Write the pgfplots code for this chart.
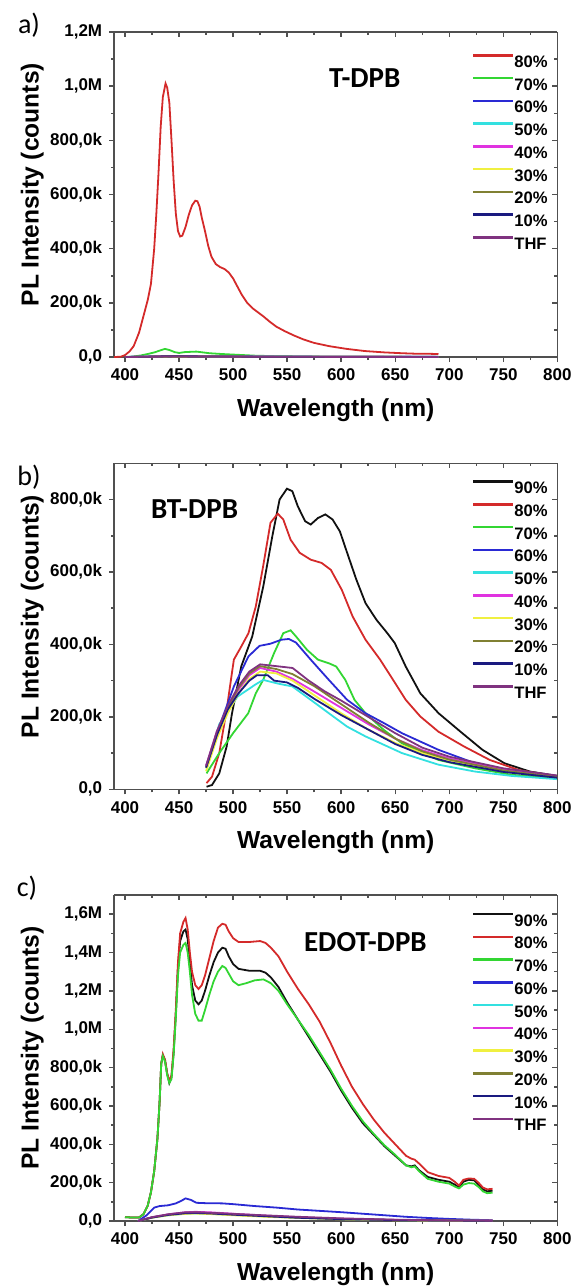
\documentclass[border=0pt]{standalone}
\usepackage{pgfplots}
\pgfplotsset{compat=1.18}
\usepackage{fontspec}
\setmainfont{Liberation Sans}
\newfontfamily\calfont{Carlito}
\definecolor{axgray}{HTML}{505050}
\definecolor{c90}{HTML}{111111}
\definecolor{c80}{HTML}{D42A2A}
\definecolor{c70}{HTML}{33D633}
\definecolor{c60}{HTML}{2A2AD4}
\definecolor{c50}{HTML}{33E0E0}
\definecolor{c40}{HTML}{E033E0}
\definecolor{c30}{HTML}{F0F040}
\definecolor{c20}{HTML}{808033}
\definecolor{c10}{HTML}{1A1A80}
\definecolor{cthf}{HTML}{803380}
\pgfplotsset{
  common/.style={scale only axis, width=221.6pt, xmin=390, xmax=800,
    xtick={400,450,...,800}, minor x tick num=1, minor y tick num=1,
    axis line style={draw=axgray, line width=0.75pt},
    major tick length=2.5pt, minor tick length=1.5pt,
    every tick/.style={draw=axgray, line width=0.75pt},
    tick label style={font=\bfseries\fontsize{8.5}{10}\selectfont},
    /pgf/number format/assume math mode=true,
    scaled y ticks=false},
  mainax/.style={common, axis x line*=bottom, axis y line*=left, tick align=outside,
    xticklabels={400,450,500,550,600,650,700,750,800},
    xlabel={Wavelength (nm)}, ylabel={PL Intensity (counts)},
    label style={font=\bfseries\fontsize{12.3}{14}\selectfont},
    xlabel style={at={(axis description cs:0.5,-0.163)}, anchor=center},
    ylabel style={at={(axis description cs:-0.185,0.53)}, anchor=center, rotate=0},
    legend cell align=left,
    legend style={draw=none, fill=none, inner sep=0pt, outer sep=0pt,
      font=\bfseries\fontsize{8.3}{9}\selectfont, row sep=4.75pt,
      nodes={inner sep=0pt, text height=6pt, text depth=0pt}},
    /tikz/every even column/.append style={column sep=2.5pt},
    legend image code/.code={\draw[##1, line width=1.25pt] (0pt,3pt) -- (20pt,3pt);},
    every axis plot/.append style={line width=0.9pt}},
  topax/.style={common, axis x line*=top, axis y line*=right, tick align=inside,
    xticklabels={}, yticklabels={}}
}
\begin{document}
\begin{tikzpicture}
\useasboundingbox (0,0) rectangle (287pt,-643.5pt);
% ---------------- panel a ----------------
\begin{axis}[mainax, at={(57.1pt,-178.5pt)}, anchor=south west, height=162.5pt,
  ymin=0, ymax=1200000, ytick={0,200000,400000,600000,800000,1000000,1200000},
  yticklabels={0{,}0,200{,}0k,400{,}0k,600{,}0k,800{,}0k,1{,}0M,1{,}2M},
  legend style={at={(rel axis cs:0.807,0.932)}, anchor=north west}]
\addplot[c80] coordinates {(390,0) (396,1000) (400,7000) (404,20000) (408,40000) (413,90000) (417,150000) (421,210000) (424,270000) (427,400000) (429,530000) (431,680000) (433,850000) (435,960000) (437.5,1010000) (439,995000) (441,940000) (443,800000) (445,650000) (447,530000) (449,465000) (451,445000) (453,448000) (456,480000) (459,525000) (462,560000) (465,577000) (467,575000) (469,555000) (471,515000) (474,465000) (477,410000) (480,370000) (484,343000) (488,332000) (492,325000) (496,312000) (500,290000) (504,260000) (508,230000) (513,200000) (518,180000) (523,165000) (528,150000) (534,130000) (540,112000) (548,95000) (556,80000) (565,65000) (575,52000) (589,40000) (605,30000) (622,22000) (640,17000) (656,14000) (670,12000) (680,12000) (690,11000)};
\addlegendentry{80\%}
\addplot[c70] coordinates {(400,0) (408,2000) (415,6000) (422,12000) (428,18000) (433,25000) (437,30000) (441,26000) (446,18000) (450,15000) (455,18000) (460,19000) (466,20000) (472,17000) (478,14000) (490,11000) (505,8000) (520,5000) (540,3000) (570,1500) (600,1000) (650,500) (690,500)};
\addlegendentry{70\%}
\addplot[c60] coordinates {(400,0) (420,2000) (440,4000) (470,3000) (520,2000) (600,1000) (690,500)};
\addlegendentry{60\%}
\addplot[c50] coordinates {(400,0) (420,1500) (440,3000) (470,2500) (520,1500) (600,800) (690,400)};
\addlegendentry{50\%}
\addplot[c40] coordinates {(400,0) (420,1500) (440,3000) (470,2500) (520,1500) (600,800) (690,400)};
\addlegendentry{40\%}
\addplot[c30] coordinates {(400,0) (420,1000) (440,2500) (470,2000) (520,1200) (600,600) (690,300)};
\addlegendentry{30\%}
\addplot[c20] coordinates {(400,0) (420,1000) (440,2500) (470,2000) (520,1200) (600,600) (690,300)};
\addlegendentry{20\%}
\addplot[c10] coordinates {(400,0) (420,1200) (440,2800) (470,2200) (520,1300) (600,700) (690,300)};
\addlegendentry{10\%}
\addplot[cthf] coordinates {(400,0) (420,1000) (440,2000) (470,1800) (520,1000) (600,500) (690,300)};
\addlegendentry{THF}
\end{axis}
\begin{axis}[topax, at={(57.1pt,-178.5pt)}, anchor=south west, height=162.5pt,
  ymin=0, ymax=1200000, ytick={0,200000,400000,600000,800000,1000000,1200000}]
\end{axis}
% ---------------- panel b ----------------
\begin{axis}[mainax, at={(57.1pt,-394.65pt)}, anchor=south west, height=163pt,
  ymin=0, ymax=900000, ytick={0,200000,400000,600000,800000},
  yticklabels={0{,}0,200{,}0k,400{,}0k,600{,}0k,800{,}0k},
  legend style={at={(rel axis cs:0.807,0.948)}, anchor=north west}]
\addplot[c90] coordinates {(475.4,7000) (480.5,12000) (487.2,44000) (494,118000) (499,210000) (507.5,339000) (517.7,422000) (527.9,560000) (536.3,699000) (543,800000) (549.8,830000) (554.8,823000) (559.9,781000) (566.7,740000) (571.8,731000) (578.5,749000) (585.3,759000) (592,745000) (598.8,712000) (605.5,653000) (614,579000) (622.5,514000) (632.6,468000) (642.7,431000) (649.5,404000) (659.7,339000) (673.2,265000) (690.1,210000) (710.4,159000) (730.7,109000) (751,72000) (774.6,49000) (800,37000)};
\addlegendentry{90\%}
\addplot[c80] coordinates {(475.4,17000) (480.5,35000) (487.2,100000) (494,219000) (500.7,358000) (507.5,394000) (514.2,431000) (521,505000) (527.8,616000) (534.6,736000) (541.3,761000) (546.4,745000) (553.2,689000) (561.6,653000) (571.8,634000) (581.9,625000) (590.4,606000) (600.5,551000) (610.6,477000) (622.5,413000) (636,358000) (646.1,311000) (659.7,247000) (673.2,201000) (690,159000) (713.8,118000) (737.5,81000) (764.5,53000) (800,35000)};
\addlegendentry{80\%}
\addplot[c70] coordinates {(475.4,44000) (487.2,100000) (500,155000) (514,210000) (521,265000) (527.8,302000) (537.9,376000) (546.4,431000) (553.2,439000) (558.2,422000) (568.4,385000) (578.5,358000) (588.6,348000) (595.4,339000) (603.8,302000) (612.3,247000) (622.5,210000) (639.4,164000) (656.2,127000) (690,81000) (723.8,58000) (757.6,40000) (800,31000)};
\addlegendentry{70\%}
\addplot[c60] coordinates {(475.4,67000) (487.2,173000) (500.7,284000) (514.2,367000) (524.4,396000) (534.6,402000) (544.7,413000) (551.5,415000) (558.2,405000) (571.8,358000) (588.6,302000) (605.5,247000) (622.5,210000) (639.4,183000) (656.2,155000) (690,109000) (723.8,72000) (757.6,49000) (800,35000)};
\addlegendentry{60\%}
\addplot[c50] coordinates {(475.4,55000) (487.2,180000) (504.1,256000) (521,290000) (527.8,302000) (541.3,292000) (554.8,284000) (571.8,247000) (588.6,210000) (605.5,173000) (622.5,146000) (639.4,123000) (656.2,100000) (690,68000) (723.8,49000) (757.6,37000) (800,28000)};
\addlegendentry{50\%}
\addplot[c40] coordinates {(475,65000) (485,160000) (495,225000) (505,275000) (515,315000) (525,335000) (540,325000) (555,305000) (575,270000) (600,225000) (625,180000) (650,140000) (675,108000) (700,85000) (750,55000) (800,35000)};
\addlegendentry{40\%}
\addplot[c30] coordinates {(475,50000) (485,140000) (495,210000) (505,265000) (515,305000) (525,325000) (540,320000) (555,300000) (575,260000) (600,210000) (625,165000) (650,128000) (675,100000) (700,80000) (750,50000) (800,33000)};
\addlegendentry{30\%}
\addplot[c20] coordinates {(475,60000) (485,155000) (495,225000) (505,280000) (515,320000) (525,340000) (540,332000) (555,318000) (575,285000) (600,235000) (625,185000) (650,140000) (675,105000) (700,82000) (750,52000) (800,34000)};
\addlegendentry{20\%}
\addplot[c10] coordinates {(475,60000) (485,150000) (495,220000) (505,265000) (515,300000) (522,315000) (532,315000) (538,300000) (550,295000) (560,280000) (575,250000) (600,205000) (625,165000) (650,125000) (675,95000) (700,75000) (750,48000) (800,32000)};
\addlegendentry{10\%}
\addplot[cthf] coordinates {(475,65000) (485,160000) (495,230000) (505,285000) (515,325000) (525,345000) (540,340000) (555,335000) (570,300000) (585,270000) (600,245000) (625,200000) (650,155000) (675,115000) (700,90000) (750,58000) (800,38000)};
\addlegendentry{THF}
\end{axis}
\begin{axis}[topax, at={(57.1pt,-394.65pt)}, anchor=south west, height=163pt,
  ymin=0, ymax=900000, ytick={0,200000,400000,600000,800000}]
\end{axis}
% ---------------- panel c ----------------
\begin{axis}[mainax, at={(57.1pt,-610.5pt)}, anchor=south west, height=163pt,
  ymin=0, ymax=1700000, ytick={0,200000,400000,600000,800000,1000000,1200000,1400000,1600000},
  yticklabels={0{,}0,200{,}0k,400{,}0k,600{,}0k,800{,}0k,1{,}0M,1{,}2M,1{,}4M,1{,}6M},
  legend style={at={(rel axis cs:0.807,0.945)}, anchor=north west}]
\addplot[c90] coordinates {(400,20000) (408,18000) (413,18000) (417,35000) (421,80000) (424,150000) (427,260000) (430,430000) (432,620000) (433.5,820000) (435,865000) (437,840000) (439,770000) (441,720000) (443,750000) (445,880000) (447,1080000) (449,1320000) (451,1460000) (454,1510000) (456,1520000) (458,1470000) (460,1350000) (462,1230000) (465,1150000) (468,1130000) (471,1150000) (474,1200000) (478,1280000) (482,1350000) (486,1400000) (490,1425000) (493,1420000) (496,1380000) (500,1340000) (505,1315000) (515,1305000) (525,1305000) (530,1295000) (535,1270000) (542,1220000) (550,1140000) (560,1050000) (570,960000) (580,870000) (590,780000) (600,680000) (610,590000) (620,510000) (630,450000) (640,390000) (650,340000) (660,290000) (665,285000) (668,290000) (672,265000) (680,230000) (690,215000) (700,205000) (705,190000) (709,175000) (713,205000) (718,215000) (723,212000) (727,190000) (731,165000) (735,155000) (740,158000)};
\addlegendentry{90\%}
\addplot[c80] coordinates {(400,20000) (408,18000) (413,18000) (417,35000) (421,80000) (424,150000) (427,260000) (430,430000) (432,620000) (433.5,820000) (435,870000) (437,840000) (439,770000) (441,730000) (443,760000) (445,900000) (447,1100000) (449,1350000) (451,1500000) (454,1560000) (456,1580000) (458,1520000) (460,1400000) (462,1300000) (465,1230000) (468,1210000) (471,1230000) (474,1280000) (478,1370000) (482,1460000) (486,1530000) (490,1550000) (493,1545000) (496,1510000) (500,1475000) (505,1455000) (515,1455000) (525,1460000) (530,1450000) (535,1425000) (542,1380000) (550,1300000) (560,1210000) (570,1130000) (580,1040000) (590,930000) (600,810000) (610,700000) (620,610000) (630,530000) (640,460000) (650,400000) (660,340000) (665,325000) (668,320000) (672,300000) (680,255000) (690,235000) (700,225000) (705,205000) (709,185000) (713,215000) (718,222000) (723,220000) (727,200000) (731,175000) (735,165000) (740,168000)};
\addlegendentry{80\%}
\addplot[c70] coordinates {(400,20000) (408,18000) (413,18000) (417,35000) (421,80000) (424,150000) (427,260000) (430,430000) (432,620000) (433.5,820000) (435,860000) (437,830000) (439,760000) (441,720000) (443,740000) (445,870000) (447,1060000) (449,1280000) (451,1400000) (454,1440000) (456,1450000) (458,1400000) (460,1300000) (462,1180000) (465,1080000) (468,1045000) (471,1045000) (474,1100000) (478,1180000) (482,1250000) (486,1300000) (490,1330000) (493,1320000) (496,1290000) (500,1250000) (505,1230000) (512,1240000) (520,1255000) (528,1260000) (535,1240000) (542,1200000) (550,1130000) (560,1050000) (570,970000) (580,880000) (590,790000) (600,690000) (610,600000) (620,520000) (630,455000) (640,395000) (650,345000) (660,290000) (665,280000) (668,285000) (672,260000) (680,220000) (690,205000) (700,195000) (705,180000) (709,170000) (713,190000) (718,198000) (723,195000) (727,178000) (731,155000) (735,145000) (740,148000)};
\addlegendentry{70\%}
\addplot[c60] coordinates {(412,0) (420,30000) (427,70000) (432,78000) (440,82000) (447,92000) (452,105000) (456,118000) (461,110000) (466,95000) (475,93000) (490,92000) (500,88000) (520,78000) (540,70000) (560,60000) (580,53000) (600,46000) (620,38000) (640,30000) (660,22000) (680,16000) (700,11000) (720,7000) (740,4000)};
\addlegendentry{60\%}
\addplot[c50] coordinates {(412,0) (425,18000) (440,30000) (455,38000) (465,40000) (480,37000) (500,32000) (530,24000) (560,17000) (600,10000) (650,5000) (700,2500) (740,1500)};
\addlegendentry{50\%}
\addplot[c40] coordinates {(412,0) (425,20000) (440,35000) (455,45000) (465,48000) (480,45000) (500,38000) (530,28000) (560,20000) (600,12000) (650,6000) (700,3000) (740,2000)};
\addlegendentry{40\%}
\addplot[c30] coordinates {(412,0) (425,17000) (440,30000) (455,37000) (465,39000) (480,36000) (500,30000) (530,22000) (560,16000) (600,9000) (650,4500) (700,2000) (740,1500)};
\addlegendentry{30\%}
\addplot[c20] coordinates {(412,0) (425,19000) (440,33000) (455,42000) (465,44000) (480,41000) (500,35000) (530,26000) (560,18000) (600,11000) (650,5500) (700,2500) (740,1500)};
\addlegendentry{20\%}
\addplot[c10] coordinates {(412,0) (425,18000) (440,32000) (455,40000) (465,42000) (480,39000) (500,33000) (530,25000) (560,17000) (600,10000) (650,5000) (700,2500) (740,1500)};
\addlegendentry{10\%}
\addplot[cthf] coordinates {(412,0) (425,20000) (440,35000) (455,45000) (470,45000) (490,40000) (520,32000) (560,22000) (600,14000) (650,7000) (700,3000) (740,2000)};
\addlegendentry{THF}
\end{axis}
\begin{axis}[topax, at={(57.1pt,-610.5pt)}, anchor=south west, height=163pt,
  ymin=0, ymax=1700000, ytick={0,200000,400000,600000,800000,1000000,1200000,1400000,1600000}]
\end{axis}
% ---------------- annotations ----------------
\node[font=\calfont\bfseries\fontsize{14.5}{16}\selectfont] at (182.4pt,-39.2pt) {T-DPB};
\node[font=\calfont\bfseries\fontsize{14.5}{16}\selectfont] at (97.3pt,-254.7pt) {BT-DPB};
\node[font=\calfont\bfseries\fontsize{14.5}{16}\selectfont] at (182.7pt,-470.8pt) {EDOT-DPB};
\node[font=\calfont\fontsize{14}{16}\selectfont] at (14.5pt,-12.5pt) {a)};
\node[font=\calfont\fontsize{14}{16}\selectfont] at (14.5pt,-238.5pt) {b)};
\node[font=\calfont\fontsize{14}{16}\selectfont] at (13.5pt,-444pt) {c)};
\end{tikzpicture}
\end{document}
